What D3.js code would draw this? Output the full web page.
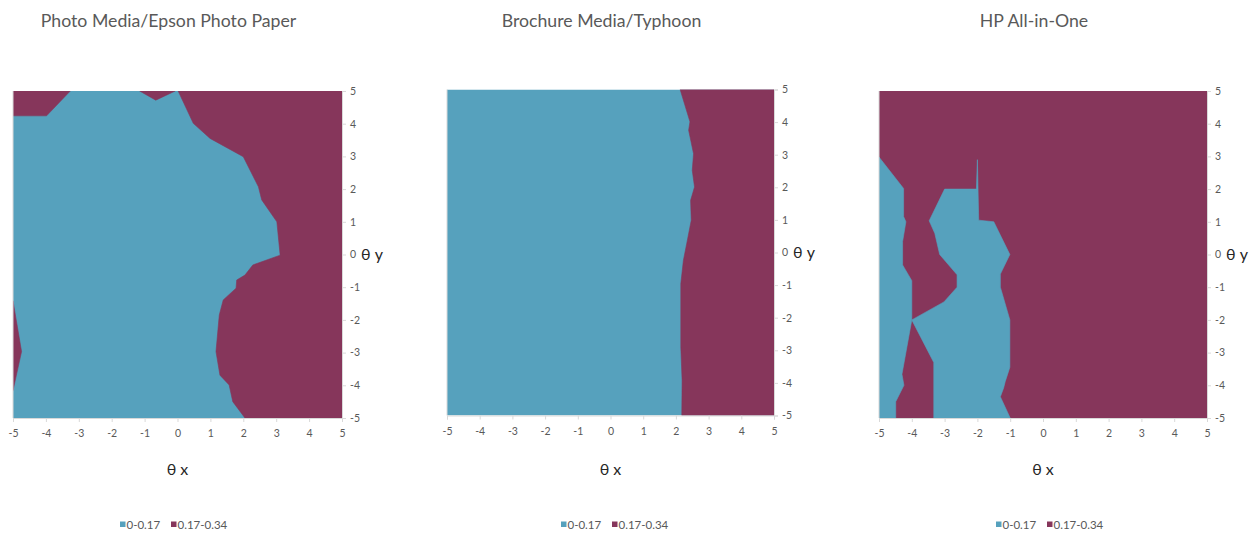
<!DOCTYPE html>
<html><head><meta charset="utf-8">
<script src="https://cdn.jsdelivr.net/npm/d3@7"></script>
<style>body{margin:0;background:#fff;} svg{display:block;}</style>
</head><body><svg id="c" width="1255" height="533"></svg>
<script>
// ---- data ----
const bands = ["0-0.17", "0.17-0.34"];
const bandColors = ["#56A1BD", "#86365B"];
const xTicks = [-5, -4, -3, -2, -1, 0, 1, 2, 3, 4, 5];
const yTicks = [-5, -4, -3, -2, -1, 0, 1, 2, 3, 4, 5];
const titles = ["Photo Media/Epson Photo Paper", "Brochure Media/Typhoon", "HP All-in-One"];
const xLabel = "θ x", yLabel = "θ y";
// band filling the whole surface, then regions of the other band (boundary points in θx, θy)
const baseBand = [0, 0, 1];
const photoRegions = [
  [[-5,5],[-3.26,5],[-3.98,4.24],[-5,4.24]],
  [[-1.15,5],[-0.66,4.72],[-0.07,5]],
  [[0.02,5],[0.48,4.01],[0.99,3.55],[2.0,2.99],[2.46,2.07],[2.56,1.67],[3.02,1.0],[3.12,-0.02],[2.29,-0.32],[2.05,-0.63],[1.8,-0.78],[1.78,-1.03],[1.39,-1.39],[1.27,-1.85],[1.17,-2.97],[1.29,-3.69],[1.57,-3.99],[1.68,-4.5],[2.05,-5],[5,-5],[5,5]],
  [[-5,-1.42],[-4.74,-2.97],[-5,-4.16]]
];
const brochureRegions = [
  [[2.13,5],[2.43,4.01],[2.39,3.75],[2.54,3.03],[2.5,2.52],[2.57,2.01],[2.45,1.6],[2.47,0.99],[2.33,0.27],[2.23,-0.24],[2.15,-0.96],[2.15,-2.9],[2.19,-3.93],[2.18,-5],[5,-5],[5,5]]
];
const hpRegions = [
  [[-5,2.98],[-4.25,2.02],[-4.25,1.16],[-4.18,1.0],[-4.28,0.4],[-4.28,-0.32],[-4.0,-0.8],[-4.0,-2.0],[-4.3,-3.66],[-4.24,-4.0],[-4.49,-4.5],[-4.49,-5],[-5,-5]],
  [[-4.0,-2.0],[-3.02,-1.45],[-2.62,-1.0],[-2.62,-0.62],[-3.15,0.0],[-3.3,0.65],[-3.47,1.03],[-3.0,2.0],[-2.03,2.0],[-2.0,2.9],[-1.96,1.05],[-1.5,1.0],[-1.01,0.0],[-1.3,-0.6],[-1.3,-1.0],[-1.01,-2.0],[-1.01,-3.45],[-1.15,-3.88],[-1.2,-4.08],[-1.3,-4.35],[-1.0,-5],[-3.33,-5],[-3.33,-3.3]]
];
const panelRegions = [photoRegions, brochureRegions, hpRegions];

// ---- layout ----
const layout = [
  {left: 13, top: 91, w: 329, h: 327, legendX: 120},
  {left: 447, top: 89.5, w: 327, h: 326, legendX: 561},
  {left: 879, top: 91, w: 328, h: 327, legendX: 996}
];
const FONT = "Lato, 'Open Sans', sans-serif";
const svg = d3.select("#c");

layout.forEach((L, i) => {
  const x = d3.scaleLinear().domain([-5, 5]).range([L.left, L.left + L.w]);
  const y = d3.scaleLinear().domain([-5, 5]).range([L.top + L.h, L.top]);
  const g = svg.append("g");
  const clipId = "clip" + i;
  g.append("clipPath").attr("id", clipId).append("rect")
    .attr("x", x(-5)).attr("y", y(5)).attr("width", x(5) - x(-5)).attr("height", y(-5) - y(5));
  const plot = g.append("g").attr("clip-path", `url(#${clipId})`);
  plot.append("rect")
    .attr("x", x(-5)).attr("y", y(5)).attr("width", x(5) - x(-5)).attr("height", y(-5) - y(5))
    .attr("fill", bandColors[baseBand[i]]);
  const other = 1 - baseBand[i];
  const line = d3.line().x(d => x(d[0])).y(d => y(d[1]));
  plot.selectAll("path.region").data(panelRegions[i]).join("path")
    .attr("class", "region")
    .attr("d", d => line(d) + "Z")
    .attr("fill", bandColors[other])
    .attr("stroke", bandColors[other]).attr("stroke-width", 0.6);

  // left light border
  g.append("line").attr("x1", x(-5)).attr("x2", x(-5)).attr("y1", y(5)).attr("y2", y(-5))
    .attr("stroke", "#D9D9D9");

  // axes
  const xa = g.append("g").attr("transform", `translate(0,${y(-5)})`)
    .call(d3.axisBottom(x).tickValues(xTicks).tickFormat(d => String(d)).tickSizeOuter(0).tickSize(4).tickPadding(8));
  const ya = g.append("g").attr("transform", `translate(${x(5)},0)`)
    .call(d3.axisRight(y).tickValues(yTicks).tickFormat(d => String(d)).tickSizeOuter(0).tickSize(4).tickPadding(4));
  [xa, ya].forEach(a => {
    a.select(".domain").attr("stroke", "#D9D9D9");
    a.selectAll(".tick line").attr("stroke", "#D9D9D9");
    a.selectAll("text").attr("fill", "#595959").style("font-family", FONT).style("font-size", "10.5px");
  });

  // axis titles
  g.append("text").attr("x", (x(-5) + x(5)) / 2).attr("y", 475)
    .attr("text-anchor", "middle").attr("fill", "#262626")
    .style("font-family", FONT).style("font-size", "16px").text(xLabel);
  g.append("text").attr("x", x(5) + 19).attr("y", y(0)).attr("dy", "0.35em")
    .attr("fill", "#262626")
    .style("font-family", FONT).style("font-size", "16px").text(yLabel);

  // title
  g.append("text").attr("x", (x(-5) + x(5)) / 2 - 9).attr("y", 27)
    .attr("text-anchor", "middle").attr("fill", "#595959")
    .style("font-family", FONT).style("font-size", "17.7px").text(titles[i]);

  // legend
  const lg = g.append("g").attr("transform", `translate(${L.legendX},524.5)`);
  const offs = [0, 51];
  bands.forEach((b, k) => {
    lg.append("rect").attr("x", offs[k]).attr("y", -3).attr("width", 5.5).attr("height", 5.5)
      .attr("fill", bandColors[k]);
    lg.append("text").attr("x", offs[k] + 6.5).attr("y", 0).attr("dy", "0.35em")
      .attr("fill", "#595959").style("font-family", FONT).style("font-size", "11.5px").text(b);
  });
});
</script>
</body></html>
